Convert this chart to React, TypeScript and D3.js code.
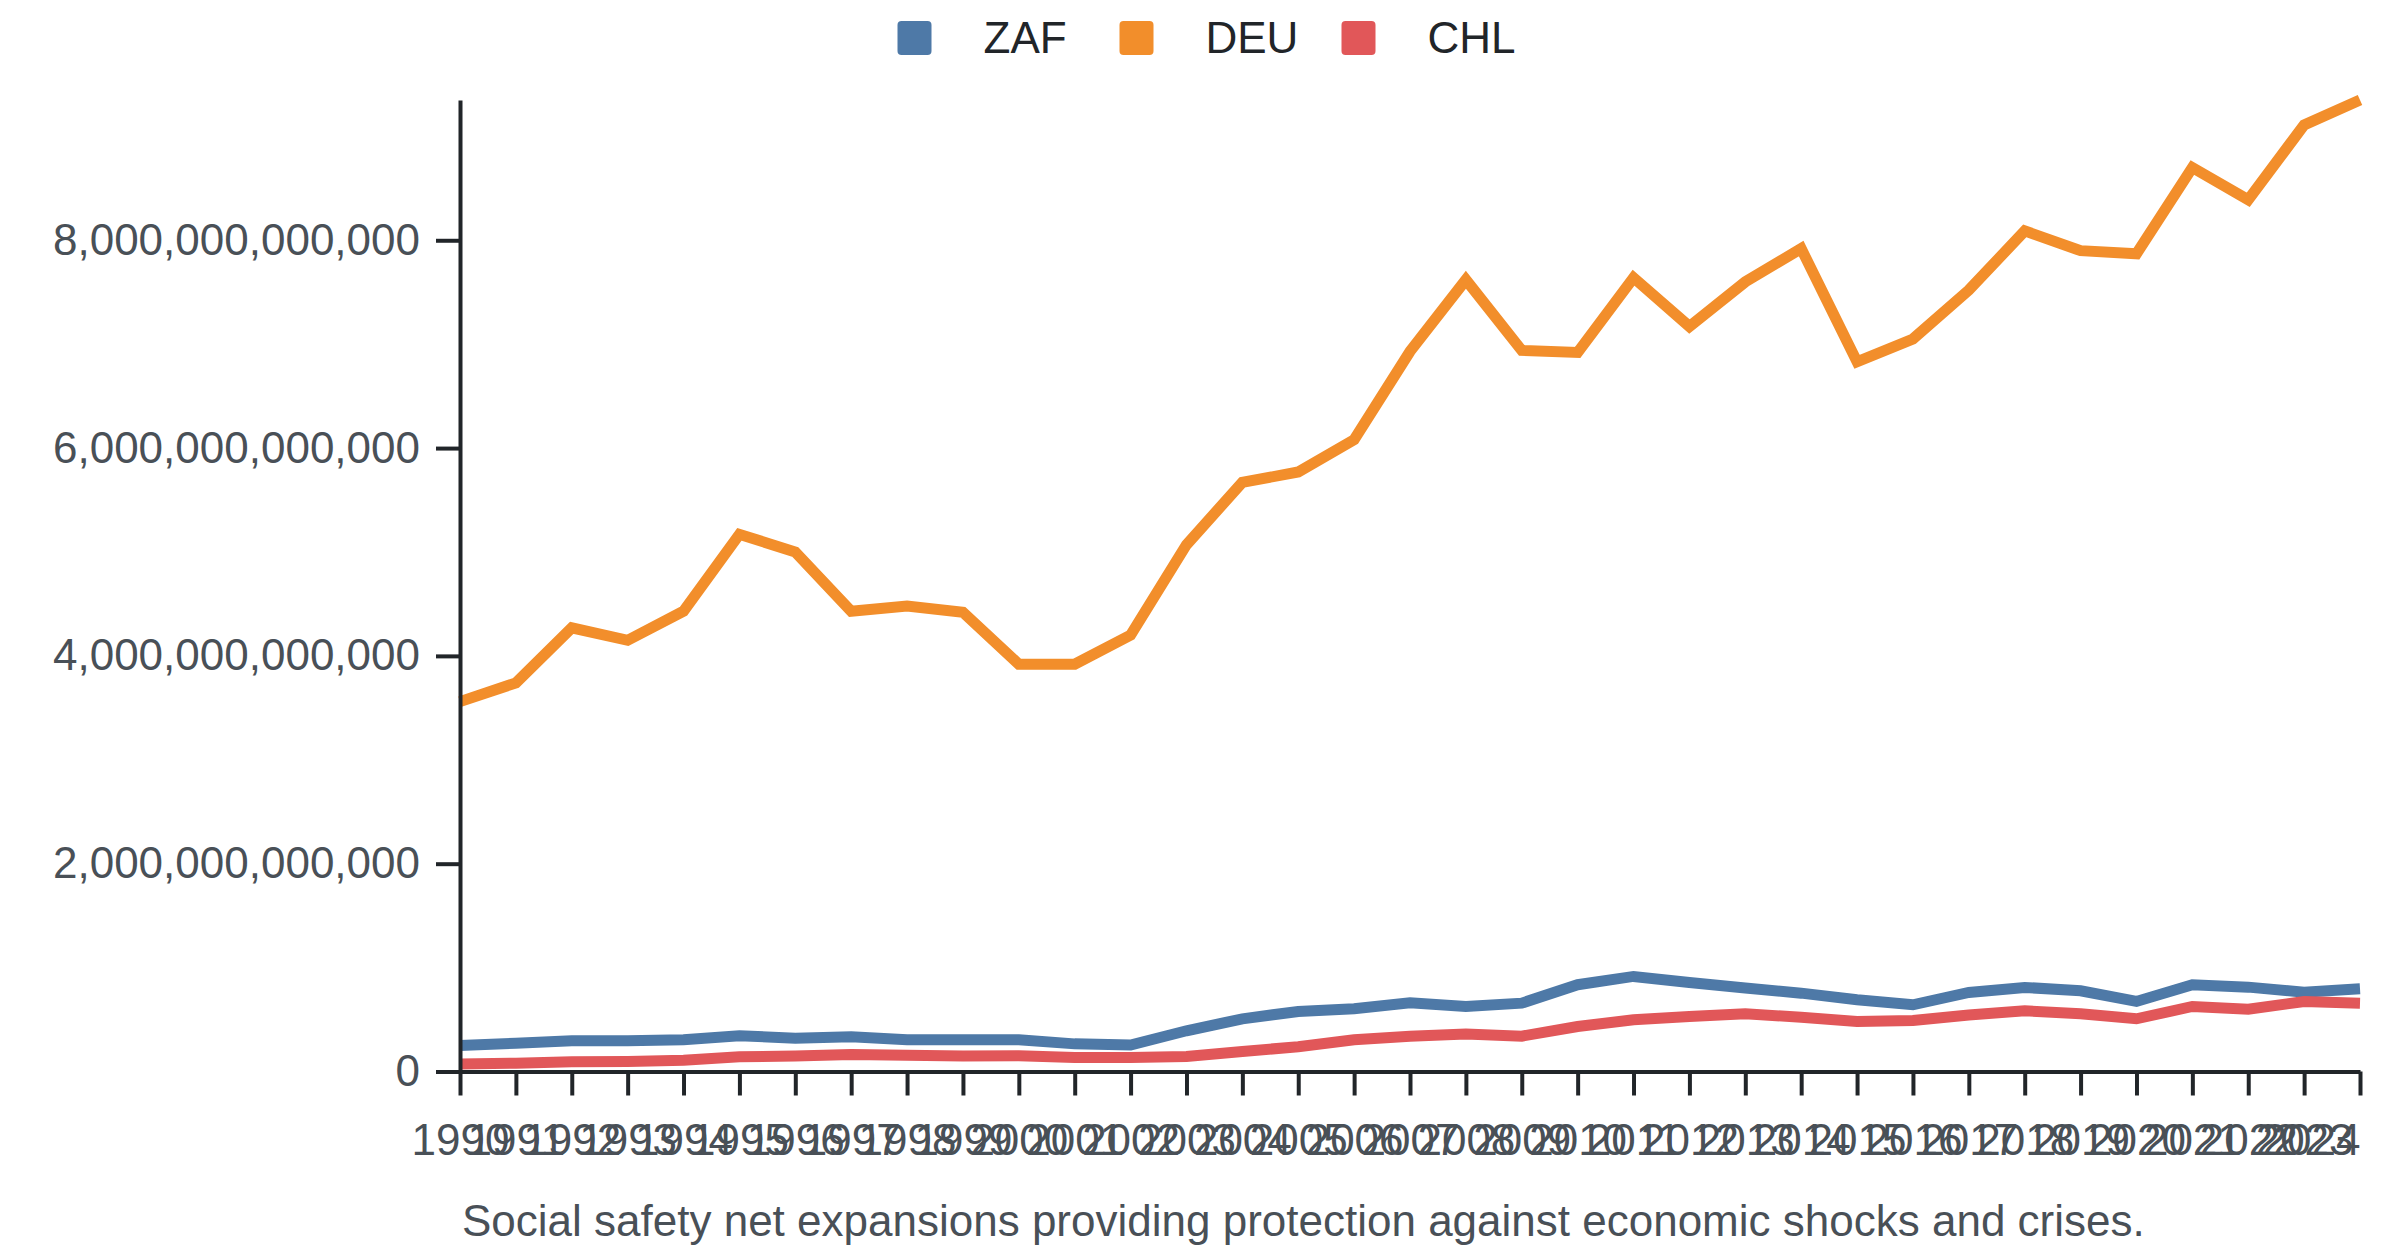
import { useRef, useEffect } from 'react'
import * as d3 from 'd3'

const years = [
  1990, 1991, 1992, 1993, 1994, 1995, 1996, 1997, 1998, 1999, 2000, 2001, 2002, 2003, 2004, 2005, 2006,
  2007, 2008, 2009, 2010, 2011, 2012, 2013, 2014, 2015, 2016, 2017, 2018, 2019, 2020, 2021, 2022, 2023, 2024,
]

// values in trillions
const zaf = [
  0.25, 0.273, 0.295, 0.295, 0.305, 0.343, 0.321, 0.334, 0.305, 0.305, 0.305, 0.266, 0.254, 0.392, 0.507,
  0.578, 0.604, 0.662, 0.626, 0.658, 0.835, 0.915, 0.857, 0.803, 0.754, 0.69, 0.642, 0.761, 0.809, 0.777,
  0.674, 0.835, 0.812, 0.764, 0.796,
]
const deu = [
  3.56, 3.74, 4.27, 4.15, 4.43, 5.17, 5.0, 4.43, 4.48, 4.42, 3.92, 3.92, 4.2, 5.07, 5.67, 5.77, 6.08, 6.93,
  7.62, 6.94, 6.92, 7.64, 7.17, 7.6, 7.92, 6.83, 7.05, 7.52, 8.09, 7.9, 7.87, 8.7, 8.39, 9.11, 9.35,
]
const chl = [
  0.071, 0.08, 0.093, 0.096, 0.109, 0.141, 0.148, 0.164, 0.157, 0.148, 0.151, 0.135, 0.135, 0.144, 0.193,
  0.238, 0.305, 0.34, 0.36, 0.34, 0.433, 0.498, 0.53, 0.555, 0.523, 0.482, 0.491, 0.543, 0.584, 0.555,
  0.507, 0.626, 0.6, 0.674, 0.658,
]

const seriesNames = ['ZAF', 'DEU', 'CHL']
const seriesValues = [zaf, deu, chl]
const colors = ['#4e79a7', '#f28e2b', '#e15759']
const yTicks = [0, 2e12, 4e12, 6e12, 8e12]
const caption = 'Social safety net expansions providing protection against economic shocks and crises.'

export default function App() {
  const svgRef = useRef<SVGSVGElement>(null)

  useEffect(() => {
    if (!svgRef.current) return
    const svg = d3.select(svgRef.current)
    svg.selectAll('*').remove()

    const width = 2400
    const height = 1256
    const margin = { top: 100, right: 40, bottom: 184.5, left: 460 }
    const innerW = width - margin.left - margin.right
    const innerH = height - margin.top - margin.bottom
    const font = '"Liberation Sans", Arial, sans-serif'

    svg.attr('width', width).attr('height', height)

    const data = seriesNames.map((name, i) => ({
      name,
      color: colors[i],
      values: years.map((yr, j) => ({ year: yr, value: seriesValues[i][j] * 1e12 })),
    }))

    const x = d3.scalePoint<number>().domain(years).range([0, innerW])
    const maxY = d3.max(data, (s) => d3.max(s.values, (d) => d.value)) || 1
    const y = d3.scaleLinear().domain([0, maxY]).range([innerH, 0])

    const g = svg.append('g').attr('transform', `translate(${margin.left},${margin.top})`)

    const line = d3
      .line<{ year: number; value: number }>()
      .x((d) => x(d.year)!)
      .y((d) => y(d.value))

    g.selectAll('.series')
      .data(data)
      .join('path')
      .attr('class', 'series')
      .attr('d', (d) => line(d.values))
      .attr('fill', 'none')
      .attr('stroke', (d) => d.color)
      .attr('stroke-width', 11)

    // Axes
    const xAxis = d3.axisBottom(x).tickSizeInner(24).tickSizeOuter(0).tickPadding(28)
    const yAxis = d3.axisLeft(y).tickValues(yTicks).tickFormat(d3.format(',.0f') as any)
      .tickSizeInner(24).tickSizeOuter(0).tickPadding(16)

    g.append('g')
      .attr('transform', `translate(0,${innerH})`)
      .call(xAxis)
      .call((a) => a.select('.domain').attr('stroke', '#212529').attr('stroke-width', 4))
      .call((a) => a.selectAll('.tick line').attr('stroke', '#212529').attr('stroke-width', 4))
      .call((a) => a.selectAll('.tick text').attr('fill', '#495057').attr('font-size', 44).attr('font-family', font))
      // last label kept inside the plot edge
      .call((a) => a.selectAll('.tick:last-of-type text').attr('text-anchor', 'end'))

    g.append('g')
      .call(yAxis)
      .call((a) => a.select('.domain').attr('stroke', '#212529').attr('stroke-width', 4))
      .call((a) => a.selectAll('.tick line').attr('stroke', '#212529').attr('stroke-width', 4))
      .call((a) => a.selectAll('.tick text').attr('fill', '#495057').attr('font-size', 44).attr('font-family', font))

    // Legend
    const itemW = 222
    const legendW = itemW * (seriesNames.length - 1) + 173
    const legend = svg.append('g').attr('transform', `translate(${1206 - legendW / 2},21)`)
    const items = legend
      .selectAll('.item')
      .data(data)
      .join('g')
      .attr('class', 'item')
      .attr('transform', (_d, i) => `translate(${i * itemW},0)`)
    items.append('rect').attr('width', 34).attr('height', 34).attr('rx', 4).attr('fill', (d) => d.color)
    items
      .append('text')
      .attr('x', 86)
      .attr('y', 17)
      .attr('dy', '0.35em')
      .attr('fill', '#212529')
      .attr('font-size', 44)
      .attr('font-family', font)
      .text((d) => d.name)

    // Caption
    svg
      .append('text')
      .attr('x', margin.left + 2)
      .attr('y', 1236)
      .attr('fill', '#495057')
      .attr('font-size', 44)
      .attr('font-family', font)
      .text(caption)
  }, [])

  return (
    <div style={{ position: 'absolute', left: 0, top: 0, width: 2400, height: 1256, background: '#fff' }}>
      <svg ref={svgRef} style={{ display: 'block' }} />
    </div>
  )
}
